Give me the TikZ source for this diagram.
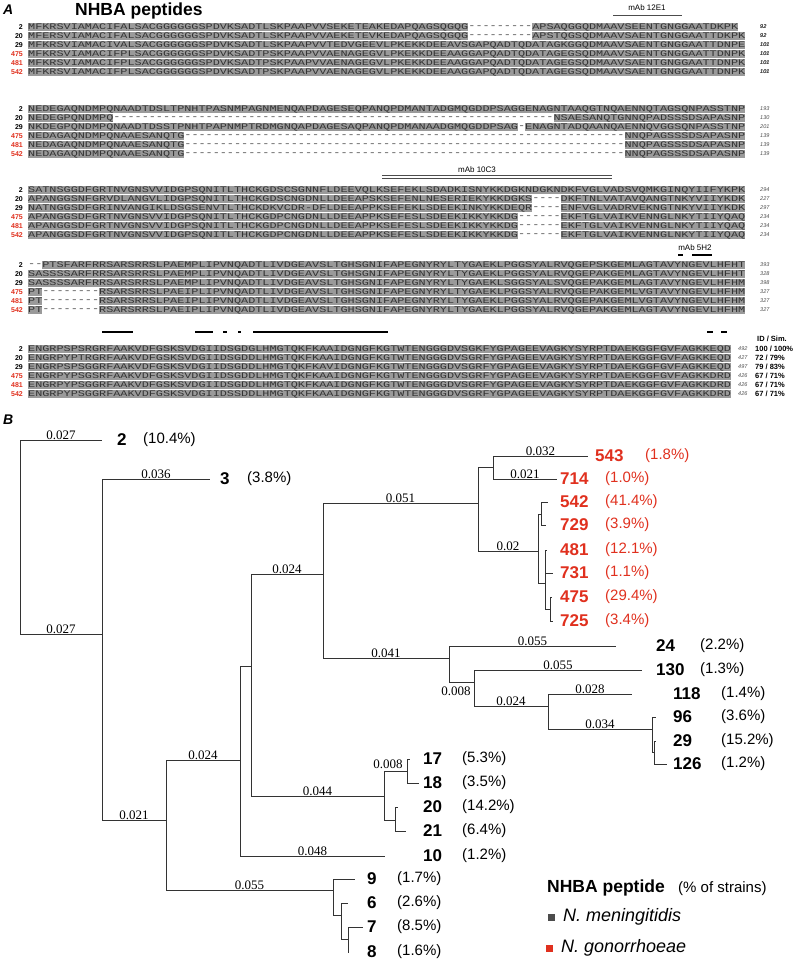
\documentclass[tikz,border=0pt]{standalone}
\usepackage{fontspec}
\usepackage{graphicx}
\setmainfont{Liberation Sans}
\newfontfamily\serifface{Liberation Serif}
\newfontfamily\monoface{Liberation Mono}
\usepackage{tikz}
\definecolor{red2}{HTML}{E0301E}
\definecolor{gray2}{HTML}{9A9A9A}

% one aligned stretch: column, row y, residues
\newcommand{\aln}[3]{\node[res,fill=gray2] at (28+7.1*#1,#2) {\scalebox{1.392}[1]{#3}};}
\newcommand{\gapseq}[3]{\node[res] at (28+7.1*#1,#2) {\scalebox{1.392}[1]{#3}};}
% branch length over a horizontal edge
\newcommand{\blen}[3]{\path (#1 |- #2) -- (#2) node[midway,above=-1pt,blentext]{#3};}

\begin{document}
\begin{tikzpicture}[x=1pt,y=-1pt,
  res/.style={anchor=west,inner sep=0pt,minimum height=8.6pt,font=\monoface\fontsize{8.5}{8.5}\selectfont,text=black!80},
  rowlab/.style={anchor=east,inner sep=0pt,font=\bfseries\fontsize{7}{7}\selectfont},
  endnum/.style={anchor=west,inner sep=0pt,font=\itshape\fontsize{5.5}{5.5}\selectfont,text=black!70},
  mab/.style={inner sep=0pt,font=\fontsize{8}{8}\selectfont},
  blentext/.style={font=\serifface\fontsize{13}{13}\selectfont,inner sep=1pt},
  leaf/.style={anchor=west,inner sep=0pt,font=\bfseries\fontsize{17}{17}\selectfont},
  pct/.style={anchor=west,inner sep=0pt,font=\fontsize{15}{15}\selectfont},
  edge/.style={draw=black!80,line width=0.8pt}]
\useasboundingbox (0,0) rectangle (800,961);

% panel A
\node[anchor=west,inner sep=0pt,font=\bfseries\itshape\fontsize{14}{14}\selectfont] (panA) at (3,10) {A};
\node[anchor=west,inner sep=0pt,font=\bfseries\fontsize{17.5}{17.5}\selectfont] (titleA) at (75,11) {NHBA peptides};

% block 1
\foreach \lab/\col [count=\i] in {2/black,20/black,29/black,475/red2,481/red2,542/red2}
  \node[rowlab,text=\col] at (23,18+9*\i) {\lab};
\aln{0}{27}{MFKRSVIAMACIFALSACGGGGGGSPDVKSADTLSKPAAPVVSEKETEAKEDAPQAGSQGQG}
\gapseq{62}{27}{---------}
\aln{71}{27}{APSAQGGQDMAAVSEENTGNGGAATDKPK}
\aln{0}{36}{MFERSVIAMACIFALSACGGGGGGSPDVKSADTLSKPAAPVVAEKETEVKEDAPQAGSQGQG}
\gapseq{62}{36}{---------}
\aln{71}{36}{APSTQGSQDMAAVSAENTGNGGAATTDKPK}
\aln{0}{45}{MFKRSVIAMACIVALSACGGGGGGSPDVKSADTLSKPAAPVVTEDVGEEVLPKEKKDEEAVSGAPQADTQDATAGKGGQDMAAVSAENTGNGGAATTDNPE}
\foreach \y in {54,63,72}
  \aln{0}{\y}{MFKRSVIAMACIFPLSACGGGGGGSPDVKSADTPSKPAAPVVAENAGEGVLPKEKKDEEAAGGAPQADTQDATAGEGSQDMAAVSAENTGNGGAATTDNPK}
\foreach \n [count=\i] in {92,92,101,101,101,101}
  \node[endnum] at (760,18+9*\i) {\n};
\draw[black!70] (613,15) -- (682,15);
\node[mab] (mab1) at (647,8) {mAb 12E1};

% block 2
\foreach \lab/\col [count=\i] in {2/black,20/black,29/black,475/red2,481/red2,542/red2}
  \node[rowlab,text=\col] at (23,100+9*\i) {\lab};
\aln{0}{109}{NEDEGAQNDMPQNAADTDSLTPNHTPASNMPAGNMENQAPDAGESEQPANQPDMANTADGMQGDDPSAGGENAGNTAAQGTNQAENNQTAGSQNPASSTNP}
\aln{0}{118}{NEDEGPQNDMPQ}
\gapseq{12}{118}{--------------------------------------------------------------}
\aln{74}{118}{NSAESANQTGNNQPADSSSDSAPASNP}
\aln{0}{127}{NKDEGPQNDMPQNAADTDSSTPNHTPAPNMPTRDMGNQAPDAGESAQPANQPDMANAADGMQGDDPSAG}
\gapseq{69}{127}{-}
\aln{70}{127}{ENAGNTADQAANQAENNQVGGSQNPASSTNP}
\foreach \y in {136,145,154}{
  \aln{0}{\y}{NEDAGAQNDMPQNAAESANQTG}
  \gapseq{22}{\y}{--------------------------------------------------------------}
  \aln{84}{\y}{NNQPAGSSSDSAPASNP}
}
\foreach \n [count=\i] in {193,130,201,139,139,139}
  \node[endnum] at (760,100+9*\i) {\n};

% block 3
\foreach \lab/\col [count=\i] in {2/black,20/black,29/black,475/red2,481/red2,542/red2}
  \node[rowlab,text=\col] at (23,181+9*\i) {\lab};
\aln{0}{190}{SATNSGGDFGRTNVGNSVVIDGPSQNITLTHCKGDSCSGNNFLDEEVQLKSEFEKLSDADKISNYKKDGKNDGKNDKFVGLVADSVQMKGINQYIIFYKPK}
\aln{0}{199}{APANGGSNFGRVDLANGVLIDGPSQNITLTHCKGDSCNGDNLLDEEAPSKSEFENLNESERIEKYKKDGKS}
\gapseq{71}{199}{----}
\aln{75}{199}{DKFTNLVATAVQANGTNKYVIIYKDK}
\aln{0}{208}{NATNGGSDFGRINVANGIKLDSGSENVTLTHCKDKVCDR-DFLDEEAPPKSEFEKLSDEEKINKYKKDEQR}
\gapseq{71}{208}{----}
\aln{75}{208}{ENFVGLVADRVEKNGTNKYVIIYKDK}
\foreach \y in {217,226,235}{
  \aln{0}{\y}{APANGGSDFGRTNVGNSVVIDGPSQNITLTHCKGDPCNGDNLLDEEAPPKSEFESLSDEEKIKKYKKDG}
  \gapseq{69}{\y}{------}
  \aln{75}{\y}{EKFTGLVAIKVENNGLNKYTIIYQAQ}
}
\foreach \n [count=\i] in {294,227,297,234,234,234}
  \node[endnum] at (760,181+9*\i) {\n};
\draw[black!70] (382,175) -- (612,175) (382,178) -- (612,178);
\node[mab] (mab2) at (477,170) {mAb 10C3};

% block 4
\foreach \lab/\col [count=\i] in {2/black,20/black,29/black,475/red2,481/red2,542/red2}
  \node[rowlab,text=\col] at (23,256+9*\i) {\lab};
\gapseq{0}{265}{--}
\aln{2}{265}{PTSFARFRRSARSRRSLPAEMPLIPVNQADTLIVDGEAVSLTGHSGNIFAPEGNYRYLTYGAEKLPGGSYALRVQGEPSKGEMLAGTAVYNGEVLHFHT}
\aln{0}{274}{SASSSSARFRRSARSRRSLPAEMPLIPVNQADTLIVDGEAVSLTGHSGNIFAPEGNYRYLTYGAEKLPGGSYALRVQGEPAKGEMLAGTAVYNGEVLHFHT}
\aln{0}{283}{SASSSSARFRRSARSRRSLPAEMPLIPVNQADTLIVDGEAVSLTGHSGNIFAPEGNYRYLTYGAEKLSGGSYALSVQGEPAKGEMLAGTAVYNGEVLHFHM}
\foreach \y/\v in {292/V,301/V,310/A}{
  \aln{0}{\y}{PT}
  \gapseq{2}{\y}{--------}
  \aln{10}{\y}{RSARSRRSLPAEIPLIPVNQADTLIVDGEAVSLTGHSGNIFAPEGNYRYLTYGAEKLPGGSYALRVQGEPAKGEML\v GTAVYNGEVLHFHM}
}
\foreach \n [count=\i] in {393,328,398,327,327,327}
  \node[endnum] at (760,256+9*\i) {\n};
\draw[line width=1.5pt] (678,255) -- (683,255) (692,255) -- (712,255);
\node[mab] (mab3) at (695,248) {mAb 5H2};

% block 5
\foreach \lab/\col [count=\i] in {2/black,20/black,29/black,475/red2,481/red2,542/red2}
  \node[rowlab,text=\col] at (23,340+9*\i) {\lab};
\aln{0}{349}{ENGRPSPSRGRFAAKVDFGSKSVDGIIDSGDGLHMGTQKFKAAIDGNGFKGTWTENGGGDVSGKFYGPAGEEVAGKYSYRPTDAEKGGFGVFAGKKEQD}
\aln{0}{358}{ENGRPYPTRGRFAAKVDFGSKSVDGIIDSGDDLHMGTQKFKAAIDGNGFKGTWTENGGGDVSGRFYGPAGEEVAGKYSYRPTDAEKGGFGVFAGKKEQD}
\aln{0}{367}{ENGRPSPSGGRFAAKVDFGSKSVDGIIDSGDDLHMGTQKFKAVIDGNGFKGTWTENGGGDVSGRFYGPAGEEVAGKYSYRPTDAEKGGFGVFAGKKEQD}
\aln{0}{376}{ENGRPYPSGSRFAAKVDFGSKSVDGIIDSGDDLHMGTQKFKAAIDGNGFKGTWTENGGGDVSGRFYGPAGEEVAGKYSYRPTDAEKGGFGVFAGKKDRD}
\aln{0}{385}{ENGRPYPSGGRFAAKVDFGSKSVDGIIDSGDDLHMGTQKFKAAIDGNGFKGTWTENGGGDVSGRFYGPAGEEVAGKYSYRPTDAEKGGFGVFAGKKDRD}
\aln{0}{394}{ENGRPYPSGGRFAAKVDFGSKSVDGIIDSSDDLHMGTQKFKAAIDGNGFKGTWTENGGGDVSGRFYGPAGEEVAGKYSYRPTDAEKGGFGVFAGKKDRD}
\foreach \n/\a/\b [count=\i] in {492/100/100,427/72/79,497/79/83,426/67/71,426/67/71,426/67/71}{
  \node[endnum] at (738,340+9*\i) {\n};
  \node[anchor=west,inner sep=0pt,font=\bfseries\fontsize{7.5}{7.5}\selectfont] at (755,340+9*\i) {\a\ / \b\%};
}
\node[anchor=west,inner sep=0pt,font=\bfseries\fontsize{7.5}{7.5}\selectfont] (idsim) at (757,339) {ID / Sim.};
\draw[line width=1.8pt] (102,332) -- (133,332) (195,332) -- (213,332) (223,332) -- (227,332)
  (238,332) -- (241,332) (253,332) -- (388,332) (707,332) -- (713,332) (721,332) -- (727,332);

% panel B
\node[anchor=west,inner sep=0pt,font=\bfseries\itshape\fontsize{14}{14}\selectfont] (panB) at (3,420) {B};

% tree nodes and tips
\coordinate (root) at (20,537);
\coordinate (nA) at (102,634);  \coordinate (nB) at (166,820);
\coordinate (nC) at (240,760);  \coordinate (nD) at (251,666);
\coordinate (nE) at (323,574);  \coordinate (nF) at (478,503);
\coordinate (nG) at (493,467);  \coordinate (nH) at (538,551);
\coordinate (nI) at (541,514);  \coordinate (nJ) at (545,583);
\coordinate (nK) at (550,609);  \coordinate (nL) at (449,658);
\coordinate (nM) at (474,682);  \coordinate (nN) at (548,706);
\coordinate (nO) at (652,729);  \coordinate (nP) at (654,752);
\coordinate (n17) at (384,796); \coordinate (nQ) at (407,771);
\coordinate (nR) at (395,820);  \coordinate (n9) at (333,890);
\coordinate (nS) at (341,915);  \coordinate (nT) at (348,939);
\foreach \t/\x/\y in {2/102/440,3/210/479,543/588/456,714/557/479,542/548/502,729/546/525,
  481/547/550,731/553/573,475/552/597,725/553/621,24/616/646,130/642/670,118/632/694,
  96/656/717,29/656/741,126/667/764,17/410/759,18/419/783,20/398/807,21/406/831,
  10/385/856,9/355/879,6/348/903,7/363/927,8/349/952}
  \coordinate (t\t) at (\x,\y);

\foreach \p/\c in {root/t2,root/nA,nA/t3,nA/nB,nB/nC,nB/n9,nC/nD,nC/t10,nD/nE,nD/n17,
  nE/nF,nE/nL,nF/nG,nF/nH,nG/t543,nG/t714,nH/nI,nH/nJ,nI/t542,nI/t729,nJ/t481,nJ/t731,
  nJ/nK,nK/t475,nK/t725,nL/t24,nL/nM,nM/t130,nM/nN,nN/t118,nN/nO,nO/t96,nO/nP,nP/t29,
  nP/t126,n17/nQ,n17/nR,nQ/t17,nQ/t18,nR/t20,nR/t21,n9/t9,n9/nS,nS/t6,nS/nT,nT/t7,nT/t8}
  \draw[edge] (\p) |- (\c);

% branch lengths
\blen{root}{t2}{0.027}
\blen{root}{nA}{0.027}
\blen{nA}{t3}{0.036}
\blen{nA}{nB}{0.021}
\blen{nB}{nC}{0.024}
\blen{nB}{n9}{0.055}
\blen{nD}{nE}{0.024}
\blen{nD}{n17}{0.044}
\blen{nC}{t10}{0.048}
\blen{nE}{nF}{0.051}
\blen{nE}{nL}{0.041}
\blen{nG}{t543}{0.032}
\blen{nG}{t714}{0.021}
\blen{nF}{nH}{0.02}
\blen{nL}{t24}{0.055}
\blen{nM}{t130}{0.055}
\blen{nM}{nN}{0.024}
\blen{nN}{t118}{0.028}
\blen{nN}{nO}{0.034}
\node[blentext] (b008a) at (456,691) {0.008};
\node[blentext] (b008b) at (388,764) {0.008};

% leaf labels
\foreach \t/\x/\px/\col/\v in {2/117/143/black/10.4,3/220/247/black/3.8,
  543/595/645/red2/1.8,714/560/605/red2/1.0,542/560/605/red2/41.4,729/560/605/red2/3.9,
  481/560/605/red2/12.1,731/560/605/red2/1.1,475/560/605/red2/29.4,725/560/605/red2/3.4,
  24/656/700/black/2.2,130/656/700/black/1.3,118/673/721/black/1.4,96/673/721/black/3.6,
  29/673/721/black/15.2,126/673/721/black/1.2,17/423/462/black/5.3,18/423/462/black/3.5,
  20/423/462/black/14.2,21/423/462/black/6.4,10/423/462/black/1.2,9/367/397/black/1.7,
  6/367/397/black/2.6,7/367/397/black/8.5,8/367/397/black/1.6}{
  \node[leaf,text=\col] (l\t) at (\x,0 |- t\t) {\t};
  \node[pct,text=\col] (p\t) at (\px,0 |- t\t) {(\v\%)};
}

% legend
\node[anchor=west,inner sep=0pt,font=\bfseries\fontsize{17.5}{17.5}\selectfont] (legtitle) at (547,888) {NHBA peptide};
\node[anchor=west,inner sep=0pt,font=\fontsize{15}{15}\selectfont] (legnote) at (678,889) {(\% of strains)};
\fill[black!70] (548,914) rectangle (555,921);
\node[anchor=west,inner sep=0pt,font=\itshape\fontsize{18}{18}\selectfont] (legnm) at (563,917) {N. meningitidis};
\fill[red2] (546,945) rectangle (553,952);
\node[anchor=west,inner sep=0pt,font=\itshape\fontsize{18}{18}\selectfont] (legng) at (561,948) {N. gonorrhoeae};
\end{tikzpicture}
\end{document}
